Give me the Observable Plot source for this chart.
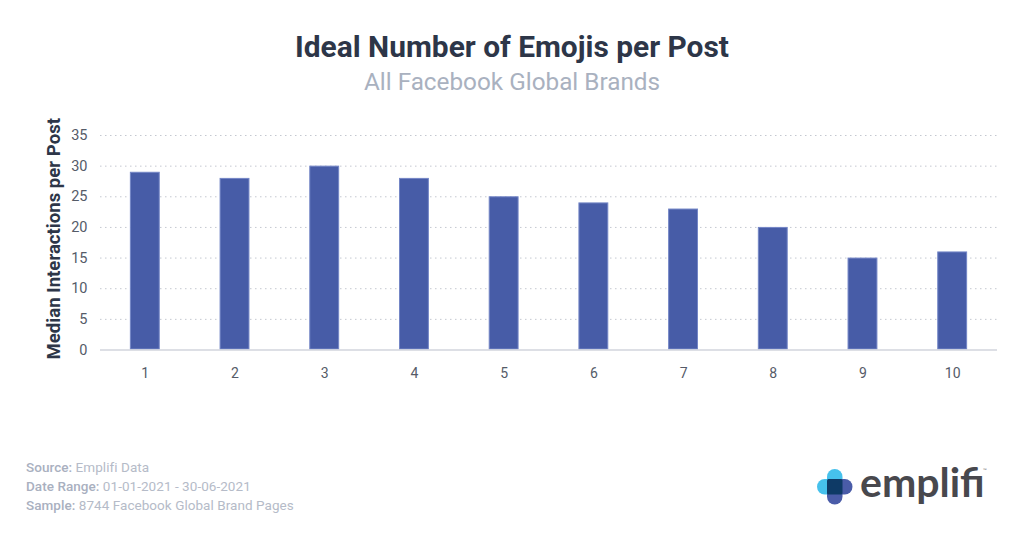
<!DOCTYPE html>
<html><head><meta charset="utf-8">
<script src="https://cdn.jsdelivr.net/npm/d3@7"></script>
<script src="https://cdn.jsdelivr.net/npm/@observablehq/plot@0.6"></script>
<style>
html,body{margin:0;padding:0;background:#fff;width:1024px;height:538px;overflow:hidden;font-family:Roboto,sans-serif}
#page{position:relative;width:1024px;height:538px}
.t{position:absolute;white-space:nowrap;z-index:2}
#title{left:0;width:1024px;text-align:center;top:29px;font-size:29.9px;line-height:36px;font-weight:700;color:#2d3648}
#sub{left:0;width:1024px;text-align:center;top:67px;font-size:24.3px;line-height:30px;color:#a9b1bf}
#chart{position:absolute;left:0;top:0}
.f{left:26px;font-size:13.5px;line-height:18px;color:#b5bbc8;letter-spacing:.05px}
.f b{font-weight:500;color:#a9b0bf}
#word{left:860px;top:458px;font:700 41px/48px Lato,sans-serif;color:#48484d}
#tm{left:983px;top:467px;font:5px/6px Lato,sans-serif;color:#777}
#logo{position:absolute;left:817px;top:469px}
</style></head><body>
<div id="page">
<div id="chart"></div>
<div class="t" id="title">Ideal Number of Emojis per Post</div>
<div class="t" id="sub">All Facebook Global Brands</div>
<div class="t f" style="top:458px"><b>Source:</b> Emplifi Data</div>
<div class="t f" style="top:476.5px"><b>Date Range:</b> 01-01-2021 - 30-06-2021</div>
<div class="t f" style="top:496px"><b>Sample:</b> 8744 Facebook Global Brand Pages</div>
<svg id="logo" width="36" height="36" viewBox="0 0 36 36">
<rect x="0" y="10" width="24" height="15.5" rx="7.7" fill="#46c1ec"/>
<rect x="10" y="0" width="15.5" height="24" rx="7.7" fill="#46c1ec"/>
<rect x="11" y="10" width="24.5" height="15.5" rx="7.7" fill="#4a5ca8"/>
<rect x="10" y="11" width="15.5" height="24.5" rx="7.7" fill="#4a5ca8"/>
<rect x="10" y="10" width="15.5" height="15.5" rx="1.5" fill="#0e3a66"/>
</svg>
<div class="t" id="word">emplifi</div>
<div class="t" id="tm">™</div>
</div>
<script>
const emojis = ["1","2","3","4","5","6","7","8","9","10"];
const interactions = [29,28,30,28,25,24,23,20,15,16];
const yTicks = [0,5,10,15,20,25,30,35];
const yLabel = ["Median Interactions per Post"];
const rows = emojis.map((e,i)=>({e, v:interactions[i]}));
const chart = Plot.plot({
  width:1024, height:400,
  marginLeft:100, marginRight:27, marginTop:135, marginBottom:50.5,
  style:{fontFamily:"Roboto, sans-serif", background:"transparent"},
  x:{domain:emojis, paddingInner:0.667, paddingOuter:0.333, align:0.5, round:false, label:null},
  y:{domain:[0,35], label:null},
  marks:[
    Plot.ruleY(yTicks.filter(d=>d>0),{stroke:"#c4c8d0",strokeWidth:1,strokeDasharray:"1.5,3.5"}),
    Plot.barY(rows,{x:"e",y:"v",fill:"#475ca7",stroke:"#7486c6",strokeWidth:1,inset:0.5}),
    Plot.ruleY([0],{stroke:"#d2d5dc",strokeWidth:1.5}),
    Plot.axisX({tickSize:0,tickPadding:18,fontSize:14,fill:"#555b68",label:null}),
    Plot.axisY({ticks:yTicks,tickSize:0,tickPadding:13,fontSize:14.5,fill:"#555b68",label:null}),
    Plot.text(yLabel,{frameAnchor:"left",textAnchor:"middle",rotate:-90,dx:-46,dy:-4,fontSize:18.6,fontWeight:700,fill:"#2d3648"})
  ]
});
document.getElementById("chart").appendChild(chart);
</script>
</body></html>
